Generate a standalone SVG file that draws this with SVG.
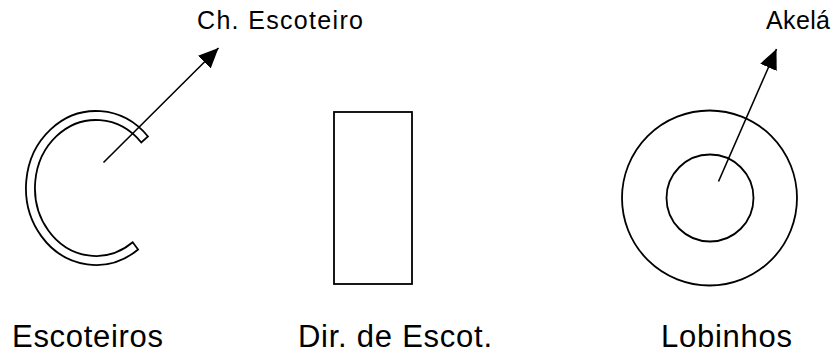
<svg xmlns="http://www.w3.org/2000/svg" width="835" height="353" viewBox="0 0 835 353">
<style>
.shape{fill:none;stroke:#000;stroke-width:1.8}
.conn{fill:none;stroke:#000;stroke-width:1.6}
.lbl{font-family:"Liberation Sans",Arial,sans-serif;fill:#000}
.top{font-size:25px}
.bot{font-size:31px}
</style>
<defs>
<marker id="ah" markerUnits="userSpaceOnUse" markerWidth="22" markerHeight="20" refX="20" refY="9" orient="auto">
<path d="M0,0 L20,9 L0,18 Z" fill="#000"/>
</marker>
</defs>
<rect width="835" height="353" fill="#fff"/>
<g id="escoteiros">
<path class="shape" d="M148,136.5 A70,77 0 1 0 138.1,249.5 L132.7,242.3 A61,68 0 1 1 141.3,142.5 Z"/>
<text class="lbl bot" x="12" y="347" textLength="151" lengthAdjust="spacing">Escoteiros</text>
</g>
<g id="dir-escot">
<rect class="shape" x="334" y="112" width="78" height="172"/>
<text class="lbl bot" x="298" y="347" textLength="194" lengthAdjust="spacing">Dir. de Escot.</text>
</g>
<g id="lobinhos">
<circle class="shape" cx="709.5" cy="198" r="87.5"/>
<circle class="shape" cx="710" cy="198" r="43.5"/>
<text class="lbl bot" x="661" y="347" textLength="131" lengthAdjust="spacing">Lobinhos</text>
</g>
<g id="ch-escoteiro">
<text class="lbl top" x="197" y="29" textLength="166" lengthAdjust="spacing">Ch. Escoteiro</text>
</g>
<g id="akela">
<text class="lbl top" x="766" y="29" textLength="64" lengthAdjust="spacing">Akelá</text>
</g>
<g id="connectors">
<line class="conn" x1="103.5" y1="162.5" x2="218.5" y2="48" marker-end="url(#ah)"/>
<line class="conn" x1="718.5" y1="181.5" x2="776.5" y2="49" marker-end="url(#ah)"/>
</g>
</svg>
